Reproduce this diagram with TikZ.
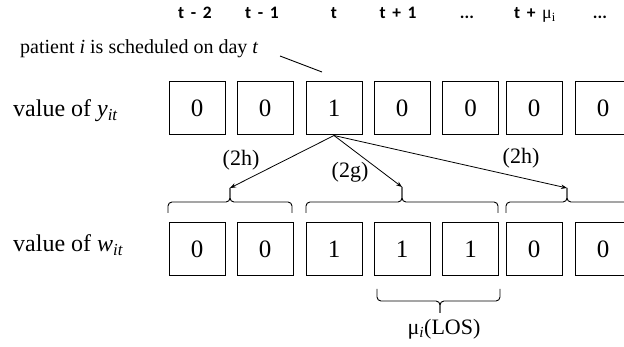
\documentclass[tikz,border=0pt]{standalone}
\usepackage{fontspec}
\setmainfont{Liberation Serif}
\newfontfamily\hdrfont{Carlito}
\usetikzlibrary{arrows.meta}
\newcommand\hgap{\hspace{0.38em}}
\begin{document}
\begin{tikzpicture}[x=1pt,y=-1pt,
  cell/.style={draw,line width=1pt,minimum width=56pt,minimum height=53pt,inner sep=0pt,font=\fontsize{25}{25}\selectfont},
  hdr/.style={anchor=base,inner sep=0pt,font=\hdrfont\bfseries\fontsize{17.5}{17.5}\selectfont},
  lbl/.style={inner sep=0pt,font=\fontsize{22}{22}\selectfont},
  rowlbl/.style={anchor=base west,inner sep=0pt,font=\fontsize{24}{24}\selectfont},
  brc/.style={line width=0.9pt,rounded corners=4pt},
  arr/.style={-{Stealth[length=6pt,width=4.5pt]},line width=0.8pt}]
\useasboundingbox (0,0) rectangle (624,347);
% header
\node[hdr] (h1) at (195,19) {t\hgap-\hgap2};
\node[hdr] (h2) at (262,19) {t\hgap-\hgap1};
\node[hdr] (h3) at (334,19) {t};
\node[hdr] (h4) at (398,19) {t\hgap+\hgap1};
\node[hdr] (h5) at (467,19) {...};
\node[hdr] (h6) at (535,19) {t\hgap+\hgap{\rmfamily\mdseries\fontsize{18}{18}\selectfont μ\textsubscript{i}}};
\node[hdr] (h7) at (600,19) {...};
% patient text
\node[anchor=base west,inner sep=0pt,font=\fontsize{20}{20}\selectfont] (pat) at (20,54) {patient \textit{i} is scheduled on day \textit{t}};
\coordinate (pp1) at (280,56);
\coordinate (pp2) at (322,72);
\draw[line width=0.9pt] (pp1) -- (pp2);
% row labels
\node[rowlbl] (ly) at (13,117) {value of \textit{y}\textsubscript{\textit{it}}};
\node[rowlbl] (lw) at (13,252) {value of \textit{w}\textsubscript{\textit{it}}};
% y row
\node[cell] (y1) at (197,108.5) {0};
\node[cell] (y2) at (265,108.5) {0};
\node[cell] (y3) at (334,108.5) {1};
\node[cell] (y4) at (402,108.5) {0};
\node[cell] (y5) at (470.5,108.5) {0};
\node[cell] (y6) at (534,108.5) {0};
\node[cell] (y7) at (603,108.5) {0};
% w row
\node[cell] (w1) at (197,249.5) {0};
\node[cell] (w2) at (265,249.5) {0};
\node[cell] (w3) at (334,249.5) {1};
\node[cell] (w4) at (402,249.5) {1};
\node[cell] (w5) at (470.5,249.5) {1};
\node[cell] (w6) at (534,249.5) {0};
\node[cell] (w7) at (603,249.5) {0};
% braces (ends, middle, tip)
\coordinate (b1l) at (168,213); \coordinate (b1r) at (292,213);
\coordinate (b1m) at (230,202); \coordinate (b1t) at (230,188);
\coordinate (b2l) at (306,213); \coordinate (b2r) at (498,213);
\coordinate (b2m) at (402,202); \coordinate (b2t) at (402,187);
\coordinate (b3l) at (506,213); \coordinate (b3r) at (630,213);
\coordinate (b3m) at (567,202); \coordinate (b3t) at (567,188);
\draw[brc] (b1l) |- (b1m) -- (b1t);
\draw[brc] (b1r) |- (b1m) -- (b1t);
\draw[brc] (b2l) |- (b2m) -- (b2t);
\draw[brc] (b2r) |- (b2m) -- (b2t);
\draw[brc] (b3l) |- (b3m) -- (b3t);
\draw[brc] (b3r) |- (b3m) -- (b3t);
\coordinate (los1) at (377,289); \coordinate (los2) at (500,289);
\coordinate (losm) at (440,301); \coordinate (lost) at (440,313);
\draw[brc] (los1) |- (losm) -- (lost);
\draw[brc] (los2) |- (losm) -- (lost);
% arrows
\draw[arr] (y3.south) -- (b1t);
\draw[arr] (y3.south) -- (b2t);
\draw[arr] (y3.south) -- (b3t);
% labels
\node[lbl] (l2h1) at (241,160) {(2h)};
\node[lbl] (l2g) at (350,172) {(2g)};
\node[lbl] (l2h2) at (521,158) {(2h)};
\node[lbl] (llos) at (444,329) {μ\textsubscript{\textit{i}}(LOS)};
\end{tikzpicture}
\end{document}
